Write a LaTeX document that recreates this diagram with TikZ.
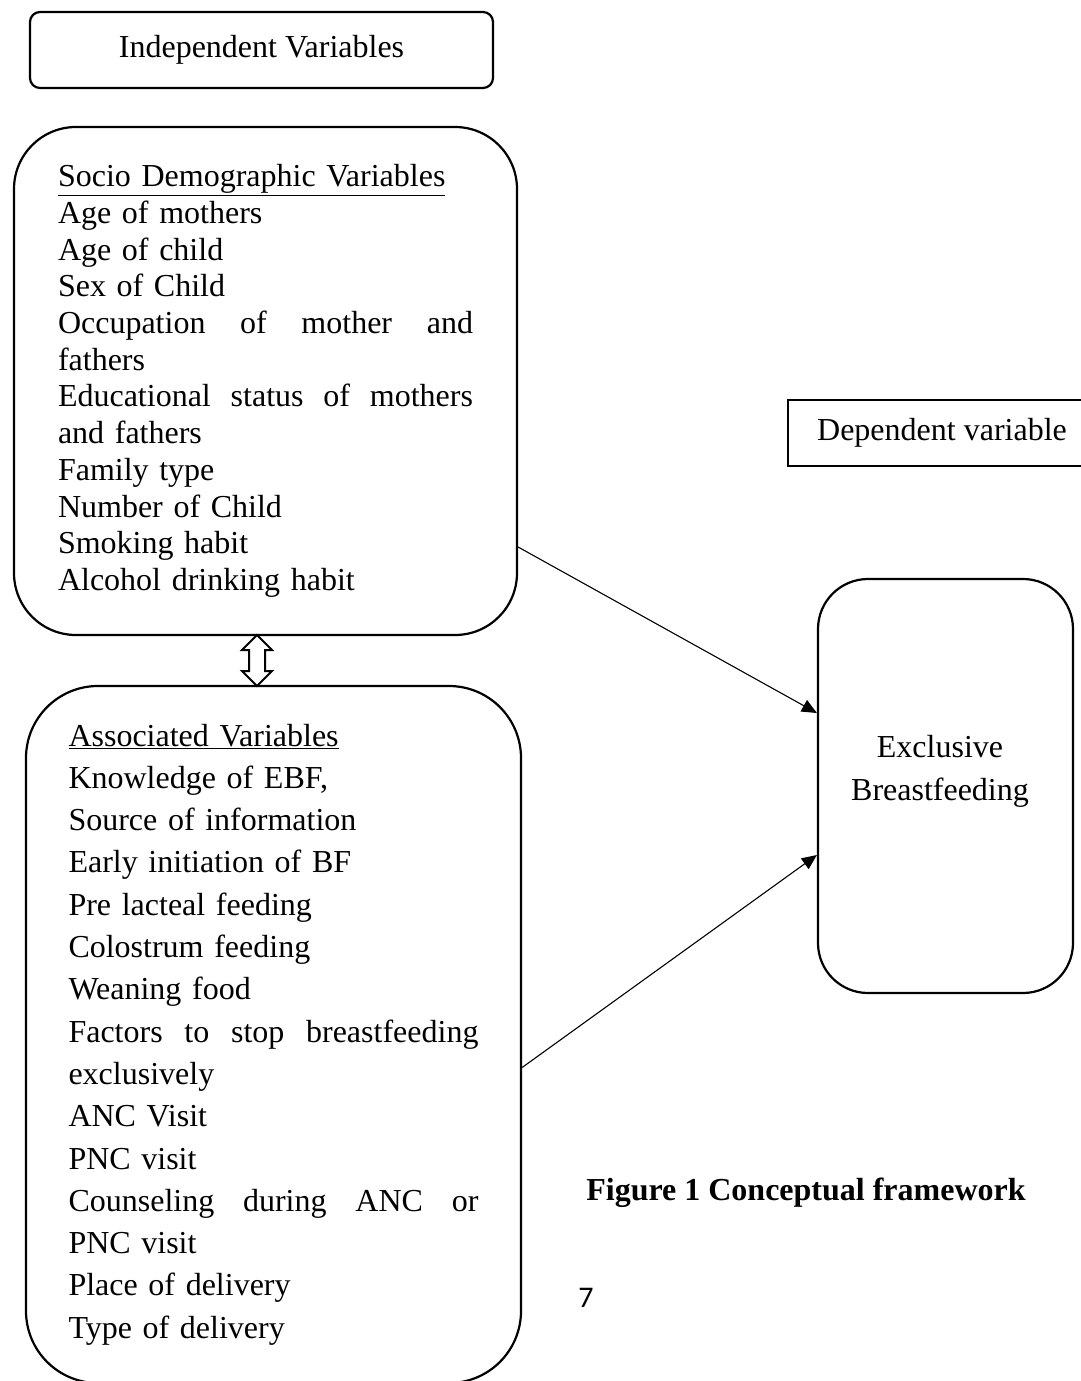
\documentclass[tikz,border=0pt]{standalone}
\usepackage{fontspec}
\setmainfont{Liberation Serif}
\newfontfamily\pagenumfont{Carlito}
\usepackage{tikz}
\usetikzlibrary{arrows.meta}

\begin{document}
\begin{tikzpicture}[x=1pt,y=-1pt,
    box/.style={draw,line width=2.2pt,rectangle,inner sep=0pt},
    roundbox/.style={box,rounded corners=#1},
    link/.style={line width=1.1pt,-{Triangle[length=15pt,width=13pt]}},
    every node/.style={font=\fontsize{32}{36.7}\selectfont}]
      \useasboundingbox (0,0) rectangle (1081,1381);

      % Draw the heading boxes
      \node[roundbox=10pt,minimum width=463,minimum height=76] (indep) at (261.5,50) {Independent Variables};
      \node[box,minimum width=308,minimum height=66] (dep) at (942,433) {Dependent variable};

      % Draw the socio demographic box
      \node[roundbox=62pt,minimum width=503,minimum height=508,text width=415,align=left] (socio) at (265.5,381) {%
        \underline{Socio Demographic Variables}\\
        Age of mothers\\
        Age of child\\
        Sex of Child\\
        Occupation\hfill of\hfill mother\hfill and\\
        fathers\\
        Educational\hfill status\hfill of\hfill mothers\\
        and fathers\\
        Family type\\
        Number of Child\\
        Smoking habit\\
        Alcohol drinking habit};

      % Draw the associated variables box
      \node[roundbox=72pt,minimum width=495,minimum height=697,text width=410,align=left,
            font=\fontsize{32}{42.3}\selectfont] (assoc) at (273.5,1034.5) {%
        \underline{Associated Variables}\\
        Knowledge of EBF,\\
        Source of information\\
        Early initiation of BF\\
        Pre lacteal feeding\\
        Colostrum feeding\\
        Weaning food\\
        Factors\hfill to\hfill stop\hfill breastfeeding\\
        exclusively\\
        ANC Visit\\
        PNC visit\\
        Counseling\hfill during\hfill ANC\hfill or\\
        PNC visit\\
        Place of delivery\\
        Type of delivery};

      % Draw the outcome box
      \node[roundbox=50pt,minimum width=255,minimum height=414] (ebf) at (945.5,786) {};
      \node[align=center,font=\fontsize{32}{43}\selectfont] (ebftext) at (940,771) {Exclusive\\Breastfeeding};

      % Draw the hollow double arrow between the two boxes
      \coordinate (mid) at (257,660.5);
      \draw[line width=2pt,fill=white,line join=miter]
        ([yshift=25.5pt]mid) -- ++(15,15) -- ++(-7,0) -- ++(0,21) -- ++(7,0) -- ++(-15,15)
        -- ++(-15,-15) -- ++(7,0) -- ++(0,-21) -- ++(-7,0) -- cycle;

      % Draw the arrows into the outcome
      \draw[link] ([yshift=-166pt]socio.east) -- ([yshift=73pt]ebf.west);
      \draw[link] ([yshift=-33pt]assoc.east) -- ([yshift=-69pt]ebf.west);

      % Caption and page number
      \node[font=\fontsize{32}{36.7}\selectfont\bfseries] (caption) at (806,1193) {Figure 1 Conceptual framework};
      \node[font=\fontsize{30}{36}\pagenumfont] (pagenum) at (586,1298) {7};
  \end{tikzpicture}
\end{document}
